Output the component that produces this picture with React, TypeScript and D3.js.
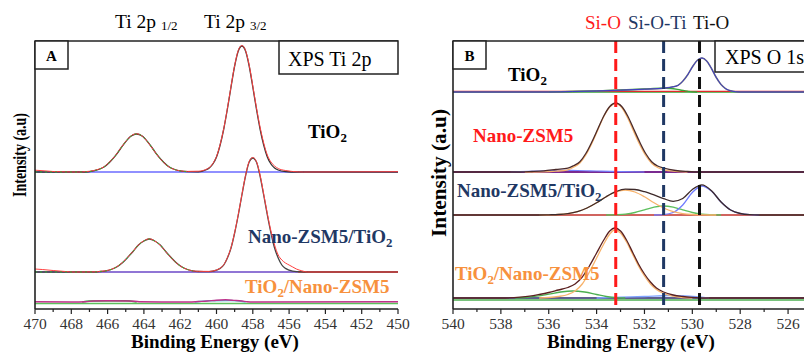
import React from 'react';
import * as d3 from 'd3';

type Pt = [number, number];

// ---------- Panel A : XPS Ti 2p (binding energy, intensity above own baseline) ----------
const ticksA = [470, 468, 466, 464, 462, 460, 458, 456, 454, 452, 450];
const minorA = [469, 467, 465, 463, 461, 459, 457, 455, 453, 451];
const flatA: Pt[] = [[470, 0], [450, 0]];
const fitBaseA: Pt[] = [[470, 0], [455.5, 0]];
const offsetsA = [137, 37, 7]; // TiO2, Nano-ZSM5/TiO2, TiO2/Nano-ZSM5

const tio2FitA: Pt[] = [
  [470, 0], [467.2, 0], [466.8, 1.1], [466.5, 2.5], [466.2, 5], [465.9, 9.5], [465.6, 15.6], [465.3, 23],
  [465.0, 30.4], [464.7, 36], [464.4, 38], [464.1, 36], [463.8, 30.4], [463.5, 23], [463.2, 15.6],
  [462.9, 9.5], [462.6, 5], [462.3, 2.5], [462.0, 1.1], [461.6, 0.3], [461.0, 0.2], [460.6, 2],
  [460.4, 4], [460.2, 8], [460.0, 15], [459.8, 27], [459.6, 43], [459.4, 63], [459.2, 85], [459.0, 106],
  [458.8, 121], [458.6, 126], [458.4, 121], [458.2, 106], [458.0, 85], [457.8, 63], [457.6, 43],
  [457.4, 27], [457.2, 15], [457.0, 8], [456.8, 4], [456.6, 2], [456.2, 0.5], [455.6, 0], [450, 0],
];
const tio2RawA: Pt[] = [
  [470, 1.8], [469.5, 1.2], [469, 0.5], [468.4, 0.2], [467.6, 0], [467.2, 0.4], [466.8, 1.3], [466.5, 2.8],
  [466.2, 5.2], [465.9, 9.8], [465.6, 15.8], [465.3, 23.2], [465.0, 30.6], [464.7, 36.2], [464.4, 38.2],
  [464.1, 36], [463.8, 30.2], [463.5, 22.8], [463.2, 15.4], [462.9, 9.3], [462.6, 4.8], [462.3, 2.4],
  [462.0, 1.2], [461.6, 0.6], [461.0, 0.8], [460.6, 2.4], [460.4, 4.4], [460.2, 8.5], [460.0, 15.5],
  [459.8, 27.5], [459.6, 43.5], [459.4, 63.5], [459.2, 85.5], [459.0, 106.5], [458.8, 121.5],
  [458.6, 126.5], [458.4, 121.5], [458.2, 107], [458.0, 86], [457.8, 64.5], [457.6, 45], [457.4, 29],
  [457.2, 17], [457.0, 10], [456.8, 6], [456.6, 3.5], [456.2, 1.5], [455.8, 0.5], [455.2, 0], [450, 0.3],
];

const zsmTio2FitA: Pt[] = [
  [470, 0], [466.6, 0], [466.4, 0.5], [466.1, 1.1], [465.8, 2.5], [465.5, 5], [465.2, 9], [464.9, 14.5],
  [464.6, 20.5], [464.3, 27], [464.0, 31], [463.7, 33], [463.4, 31], [463.1, 27], [462.8, 20.5],
  [462.5, 14.5], [462.2, 9], [461.9, 5], [461.6, 2.5], [461.3, 1.1], [461.0, 0.5], [460.4, 0.3],
  [460.0, 1.8], [459.8, 3.6], [459.6, 7], [459.4, 14], [459.2, 24], [459.0, 39], [458.8, 57], [458.6, 77],
  [458.4, 96], [458.2, 110], [458.0, 114], [457.8, 110], [457.6, 96], [457.4, 77], [457.2, 57],
  [457.0, 39], [456.8, 24], [456.6, 14], [456.4, 7], [456.2, 3.6], [456.0, 1.8], [455.6, 0.3], [455.0, 0],
  [450, 0],
];
const zsmTio2RawA: Pt[] = [
  [470, 3], [469.6, 2.5], [469, 1.5], [468.4, 0.6], [467.8, 0], [466.6, 0.2], [466.4, 0.7], [466.1, 1.3],
  [465.8, 2.7], [465.5, 5.2], [465.2, 9.2], [464.9, 14.6], [464.6, 20.6], [464.3, 27.2], [464.0, 31.2],
  [463.7, 33.2], [463.4, 31], [463.1, 26.8], [462.8, 20.3], [462.5, 14.3], [462.2, 8.8], [461.9, 4.9],
  [461.6, 2.5], [461.3, 1.2], [461.0, 0.7], [460.4, 0.6], [460.0, 2], [459.8, 3.8], [459.6, 7.3],
  [459.4, 14.3], [459.2, 24.4], [459.0, 39.5], [458.8, 57.5], [458.6, 77.5], [458.4, 96.5], [458.2, 110.5],
  [458.0, 114.5], [457.8, 110.5], [457.6, 97], [457.4, 78], [457.2, 58.5], [457.0, 41], [456.8, 27],
  [456.6, 17], [456.4, 12], [456.2, 9], [456.0, 7], [455.8, 5], [455.6, 3], [455.3, 1.2], [455.0, 0],
  [450, 0],
];

const tio2ZsmRawA: Pt[] = [
  [470, 0.3], [468, 0], [467.2, 0.3], [466.8, 1], [466, 1.2], [465, 1], [464.5, 0.8], [464.2, 0.2],
  [463, 0], [461.5, 0], [461, 0.5], [460.5, 1], [460, 1.8], [459.5, 2.2], [459, 1.6], [458.6, 1],
  [458.3, 0.3], [458, 0], [450, 0.3],
];
const tio2ZsmGreenA: Pt[] = [[467.4, 0], [467, 1], [465, 1.2], [464.4, 0]];
const tio2ZsmCyanA: Pt[] = [[461.2, 0], [460.4, 1.2], [459.2, 1.5], [458.4, 0]];

// ---------- Panel B : XPS O 1s ----------
const ticksB = [540, 538, 536, 534, 532, 530, 528, 526];
const minorB = [539, 537, 535, 533, 531, 529, 527, 525];
const flatB: Pt[] = [[540, 0], [525, 0]];
const offsetsB = [217, 137, 94, 11]; // TiO2, Nano-ZSM5, Nano-ZSM5/TiO2, TiO2/Nano-ZSM5
const bondLines = [533.2, 531.2, 529.7]; // Si-O, Si-O-Ti, Ti-O

const tio2FitB: Pt[] = [
  [540, 0], [536, 0], [535, 0.5], [534, 1], [533, 1.8], [532, 2.8], [531.2, 3.8], [530.8, 5.2],
  [530.6, 6.6], [530.4, 10.8], [530.2, 17], [530.0, 25], [529.8, 31.5], [529.6, 34], [529.4, 31],
  [529.2, 23.5], [529.0, 14.5], [528.8, 7.5], [528.6, 3.2], [528.4, 1.2], [528.2, 0.3], [528.0, 0],
  [525, 0],
];
const tio2GreenB: Pt[] = [
  [536, 0], [535, 0.5], [534, 1.2], [533, 2], [532, 3], [531.3, 3.8], [530.9, 3.5], [530.5, 2],
  [530.2, 0.8], [530, 0.2], [529.8, 0],
];

const zsmFitB: Pt[] = [
  [540, 0], [537.2, 0], [536.7, 0.5], [536.2, 1.2], [535.7, 2.5], [535.2, 3.8], [534.95, 6.5],
  [534.7, 10.3], [534.45, 18.5], [534.2, 30], [533.95, 43], [533.7, 56], [533.45, 65.5], [533.2, 69],
  [532.95, 65.5], [532.7, 56], [532.45, 43], [532.2, 30], [531.95, 18.5], [531.7, 10.3], [531.45, 6],
  [531.2, 4], [530.7, 1.5], [530.2, 0.5], [529.7, 0], [525, 0],
];
const zsmOrangeB: Pt[] = [
  [537, 0], [536.2, 0.2], [535.7, 0.8], [535.2, 2.2], [534.95, 5], [534.7, 9], [534.45, 17], [534.2, 28.5],
  [533.95, 42], [533.7, 55.5], [533.45, 65], [533.2, 68.5], [532.95, 64.5], [532.7, 54], [532.45, 40.5],
  [532.2, 27.5], [531.95, 16.5], [531.7, 8.8], [531.45, 4.5], [531.2, 2.2], [530.7, 0.6], [530.2, 0],
];
const zsmBlueB: Pt[] = [
  [537.6, 0], [536.5, 0.8], [535.5, 1.6], [534.8, 1.5], [534, 1], [533, 0.4], [532, 0],
];

const zsmTio2FitB: Pt[] = [
  [540, 0], [536.4, 0], [536.0, 0.2], [535.6, 0.5], [535.2, 1.4], [534.8, 3.4], [534.4, 7], [534.0, 12.2],
  [533.6, 18.3], [533.2, 23.3], [532.8, 25.9], [532.4, 25.5], [532.0, 23.3], [531.6, 20.1], [531.2, 16.4],
  [530.8, 13.7], [530.4, 16.5], [530.0, 25.5], [529.6, 30.1], [529.2, 24.3], [528.8, 13], [528.4, 5],
  [528.0, 1.5], [527.6, 0.3], [527.2, 0], [525, 0],
];
const zsmTio2OrangeB: Pt[] = [
  [536.4, 0], [536, 0.2], [535.6, 0.5], [535.2, 1.4], [534.8, 3.4], [534.4, 7], [534, 12.2], [533.6, 18.2],
  [533.2, 23], [532.8, 25], [532.4, 23], [532, 18.2], [531.6, 12.2], [531.2, 7], [530.8, 3.4],
  [530.4, 1.4], [530, 0.5], [529.6, 0.2], [529, 0],
];
const zsmTio2GreenB: Pt[] = [
  [533.6, 0], [533.2, 0.3], [532.8, 0.9], [532.4, 2.5], [532, 5.1], [531.6, 7.8], [531.2, 9], [530.8, 7.8],
  [530.4, 5.1], [530, 2.5], [529.6, 0.9], [529.2, 0.3], [528.8, 0],
];
const zsmTio2BlueB: Pt[] = [
  [531.6, 0], [531.2, 0.4], [530.8, 2.5], [530.4, 10], [530.0, 22.5], [529.6, 29], [529.2, 24], [528.8, 13],
  [528.4, 5], [528.0, 1.5], [527.6, 0.3], [527.2, 0],
];

const tio2ZsmFitB: Pt[] = [
  [540, 0], [538, 0], [537.2, 0.8], [536.8, 1.8], [536.4, 3.5], [536, 5.5], [535.6, 8], [535.2, 10.5],
  [534.9, 14], [534.6, 21], [534.3, 32], [534.0, 45], [533.7, 58], [533.45, 67], [533.25, 70], [533.0, 67],
  [532.75, 58], [532.5, 46], [532.25, 34], [532.0, 24], [531.75, 16], [531.5, 10], [531.2, 6], [530.8, 3],
  [530.4, 1.5], [530, 0.6], [529.5, 0], [525, 0],
];
const tio2ZsmOrangeB: Pt[] = [
  [536.4, 0], [536.0, 0.5], [535.6, 1.5], [535.2, 3.5], [534.9, 7], [534.6, 14], [534.3, 26], [534.0, 40],
  [533.7, 54], [533.45, 64], [533.25, 68], [533.0, 65], [532.75, 56], [532.5, 44], [532.25, 32], [532.0, 22],
  [531.75, 14], [531.5, 8.5], [531.2, 4.5], [530.8, 1.8], [530.4, 0.5], [530, 0],
];
const tio2ZsmGreenB: Pt[] = [
  [537.4, 0], [537, 0.5], [536.5, 1.8], [536, 3.8], [535.5, 6], [535.0, 7], [534.5, 6], [534.0, 3.5],
  [533.6, 1.5], [533.2, 0.3], [532.8, 0],
];
const tio2ZsmBlueB: Pt[] = [
  [534, 0], [533, 0.8], [532, 1.5], [531, 2.5], [530.3, 2.2], [529.7, 1], [529.3, 0],
];

// ---------- layout ----------
const FONT = "'Liberation Serif', 'DejaVu Serif', 'Times New Roman', serif";
const NAVY = '#1f3864';
const ORANGE = '#f7913d';
const RED = '#ff1a1a';
const top = 41, bottom = 309;

const xA = d3.scaleLinear().domain([470, 450]).range([35, 398]);
const xB = d3.scaleLinear().domain([540, 525]).range([453, 812]);
const y = d3.scaleLinear().domain([0, 268]).range([bottom, top]);

function Trace({ data, x, off, color, w = 1, dash }: {
  data: Pt[]; x: d3.ScaleLinear<number, number>; off: number; color: string; w?: number; dash?: string;
}) {
  const gen = d3.line<Pt>().x(d => x(d[0])).y(d => y(d[1] + off)).curve(d3.curveMonotoneX);
  return <path d={gen(data) ?? ''} fill="none" stroke={color} strokeWidth={w} strokeDasharray={dash} />;
}

function Axis({ x, ticks, minor }: { x: d3.ScaleLinear<number, number>; ticks: number[]; minor: number[] }) {
  const [x0, x1] = x.range();
  return (
    <g>
      <line x1={x0} x2={Math.min(x1, 804)} y1={bottom} y2={bottom} stroke="#222" strokeWidth={1.6} />
      {ticks.map(t => (
        <g key={t}>
          <line x1={x(t)} x2={x(t)} y1={bottom} y2={bottom + 5} stroke="#222" strokeWidth={1.2} />
          <text x={x(t)} y={329} textAnchor="middle" fontSize={15.5} fill="#333">{t}</text>
        </g>
      ))}
      {minor.map(t => (
        <line key={t} x1={x(t)} x2={x(t)} y1={bottom} y2={bottom + 3} stroke="#222" strokeWidth={1.2} />
      ))}
    </g>
  );
}

function Sub({ base, sub, after }: { base: string; sub: string; after?: string }) {
  return (
    <>
      {base}<tspan fontSize="0.68em" dy={4}>{sub}</tspan>{after !== undefined && <tspan dy={-4}>{after}</tspan>}
    </>
  );
}

export default function App() {
  return (
    <svg width={804} height={353} style={{ position: 'absolute', left: 0, top: 0, background: '#fff' }}
      fontFamily={FONT}>
      {/* ---------------- Panel A ---------------- */}
      <g>
        {/* TiO2 */}
        <Trace data={flatA} x={xA} off={offsetsA[0]} color="#6b6bff" w={1.3} />
        <Trace data={tio2FitA} x={xA} off={offsetsA[0]} color="#333" w={1.3} />
        <Trace data={tio2RawA} x={xA} off={offsetsA[0]} color="#ff4040" w={1} />
        <Trace data={tio2FitA.filter(d => d[0] > 461.3)} x={xA} off={offsetsA[0]} color="#2fae2f" w={1} dash="2 3" />
        {/* Nano-ZSM5/TiO2 */}
        <Trace data={flatA} x={xA} off={offsetsA[1]} color="#b02020" w={1.3} />
        <Trace data={fitBaseA} x={xA} off={offsetsA[1]} color="#7f7fff" w={1.4} />
        <Trace data={zsmTio2FitA} x={xA} off={offsetsA[1]} color="#444" w={1.3} />
        <Trace data={zsmTio2RawA} x={xA} off={offsetsA[1]} color="#ff4040" w={1} />
        <Trace data={zsmTio2FitA.filter(d => d[0] > 461)} x={xA} off={offsetsA[1]} color="#2fae2f" w={1} dash="2 3" />
        {/* TiO2/Nano-ZSM5 */}
        <Trace data={flatA} x={xA} off={offsetsA[2] - 1.5} color="#5cc05c" w={1.3} />
        <Trace data={tio2ZsmGreenA} x={xA} off={offsetsA[2]} color="#3a9a3a" w={1.5} />
        <Trace data={tio2ZsmCyanA} x={xA} off={offsetsA[2]} color="#4db8d8" w={1.5} />
        <Trace data={tio2ZsmRawA} x={xA} off={offsetsA[2]} color="#c0308a" w={1.4} />

        {/* frame */}
        <line x1={35} x2={35} y1={top} y2={bottom} stroke="#222" strokeWidth={1.6} />
        <line x1={35} x2={398} y1={top} y2={top} stroke="#222" strokeWidth={1.6} />
        <Axis x={xA} ticks={ticksA} minor={minorA} />
        <rect x={35} y={top} width={33} height={28} fill="#fff" stroke="#222" strokeWidth={1.5} />
        <text x={51.5} y={61} textAnchor="middle" fontWeight="bold" fontSize={15}>A</text>
        <rect x={279} y={top} width={119} height={33} fill="#fff" stroke="#222" strokeWidth={1.5} />
        <text x={288} y={66} fontSize={20}>XPS Ti 2p</text>

        <text x={115} y={28} fontSize={19.5}>Ti 2p <tspan fontSize={13} dy={2}>1/2</tspan></text>
        <text x={204} y={28} fontSize={19.5}>Ti 2p <tspan fontSize={13} dy={2}>3/2</tspan></text>

        <text x={308} y={138} fontSize={19} fontWeight="bold"><Sub base="TiO" sub="2" /></text>
        <text x={248} y={243} fontSize={19} fontWeight="bold" fill={NAVY}><Sub base="Nano-ZSM5/TiO" sub="2" /></text>
        <text x={245} y={293} fontSize={19} fontWeight="bold" fill={ORANGE}><Sub base="TiO" sub="2" after="/Nano-ZSM5" /></text>

        <text transform="translate(26,155) rotate(-90)" textAnchor="middle" fontWeight="bold" fontSize={19}
          textLength={84} lengthAdjust="spacingAndGlyphs">Intensity (a.u)</text>
        <text x={215} y={348} textAnchor="middle" fontWeight="bold" fontSize={19}>Binding Energy (eV)</text>
      </g>

      {/* ---------------- Panel B ---------------- */}
      <g>
        {/* TiO2 */}
        <Trace data={flatB} x={xB} off={offsetsB[0]} color="#3aa53a" w={1.5} />
        <Trace data={flatB} x={xB} off={offsetsB[0] + 0.6} color="#e02a2a" w={1.2} />
        <Trace data={tio2GreenB} x={xB} off={offsetsB[0]} color="#3aa53a" w={1.3} />
        <Trace data={tio2FitB} x={xB} off={offsetsB[0]} color="#777" w={1.6} />
        <Trace data={tio2FitB} x={xB} off={offsetsB[0]} color="#3c3cc8" w={1} />
        {/* Nano-ZSM5 */}
        <Trace data={flatB} x={xB} off={offsetsB[1]} color="#7a2a90" w={2} />
        <Trace data={zsmBlueB} x={xB} off={offsetsB[1]} color="#7480ff" w={1.2} />
        <Trace data={zsmOrangeB} x={xB} off={offsetsB[1]} color="#f8b36c" w={1.3} />
        <Trace data={zsmFitB} x={xB} off={offsetsB[1]} color="#4a2a2a" w={1.3} />
        {/* Nano-ZSM5/TiO2 */}
        <Trace data={flatB} x={xB} off={offsetsB[2]} color="#c0302a" w={1.5} />
        <Trace data={zsmTio2GreenB} x={xB} off={offsetsB[2]} color="#5cbf5c" w={1.3} />
        <Trace data={zsmTio2BlueB} x={xB} off={offsetsB[2]} color="#6f7bff" w={1.3} />
        <Trace data={zsmTio2OrangeB} x={xB} off={offsetsB[2]} color="#f8b36c" w={1.3} />
        <Trace data={zsmTio2FitB} x={xB} off={offsetsB[2]} color="#3e2a2a" w={1.3} />
        {/* TiO2/Nano-ZSM5 */}
        <Trace data={flatB} x={xB} off={offsetsB[3] - 2} color="#4caf50" w={1.4} />
        <Trace data={flatB} x={xB} off={offsetsB[3]} color="#2a2a6a" w={1.5} />
        <Trace data={tio2ZsmBlueB} x={xB} off={offsetsB[3]} color="#7fa3ff" w={1.3} />
        <Trace data={tio2ZsmGreenB} x={xB} off={offsetsB[3]} color="#4caf50" w={1.3} />
        <Trace data={tio2ZsmOrangeB} x={xB} off={offsetsB[3]} color="#f8b36c" w={1.3} />
        <Trace data={tio2ZsmFitB} x={xB} off={offsetsB[3]} color="#5a2020" w={1.3} />

        {/* bond markers */}
        {bondLines.map((b, i) => (
          <line key={b} x1={xB(b)} x2={xB(b)} y1={top} y2={bottom - 3}
            stroke={[RED, NAVY, '#111'][i]} strokeWidth={3} strokeDasharray="12 6" />
        ))}

        {/* frame */}
        <line x1={453} x2={453} y1={top} y2={bottom} stroke="#222" strokeWidth={1.6} />
        <line x1={453} x2={804} y1={top} y2={top} stroke="#222" strokeWidth={1.6} />
        <Axis x={xB} ticks={ticksB} minor={minorB} />
        <rect x={453} y={top} width={33} height={28} fill="#fff" stroke="#222" strokeWidth={1.5} />
        <text x={469.5} y={61} textAnchor="middle" fontWeight="bold" fontSize={15}>B</text>
        <rect x={715} y={top} width={100} height={31} fill="#fff" stroke="#222" strokeWidth={1.5} />
        <text x={725} y={64} fontSize={20}>XPS O 1s</text>

        <text x={585} y={29} fontSize={19} fill={RED}>Si-O</text>
        <text x={628} y={29} fontSize={19} fill={NAVY}>Si-O-Ti</text>
        <text x={693} y={29} fontSize={19} fill="#111">Ti-O</text>

        <text x={508} y={81} fontSize={19} fontWeight="bold"><Sub base="TiO" sub="2" /></text>
        <text x={473} y={142} fontSize={19} fontWeight="bold" fill={RED}>Nano-ZSM5</text>
        <text x={457} y={197} fontSize={19} fontWeight="bold" fill={NAVY}><Sub base="Nano-ZSM5/TiO" sub="2" /></text>
        <text x={455} y={280} fontSize={19} fontWeight="bold" fill={ORANGE}><Sub base="TiO" sub="2" after="/Nano-ZSM5" /></text>

        <text transform="translate(446,173) rotate(-90)" textAnchor="middle" fontWeight="bold" fontSize={20}
          textLength={128} lengthAdjust="spacingAndGlyphs">Intensity (a.u)</text>
        <text x={631} y={348} textAnchor="middle" fontWeight="bold" fontSize={19}>Binding Energy (eV)</text>
      </g>
    </svg>
  );
}
